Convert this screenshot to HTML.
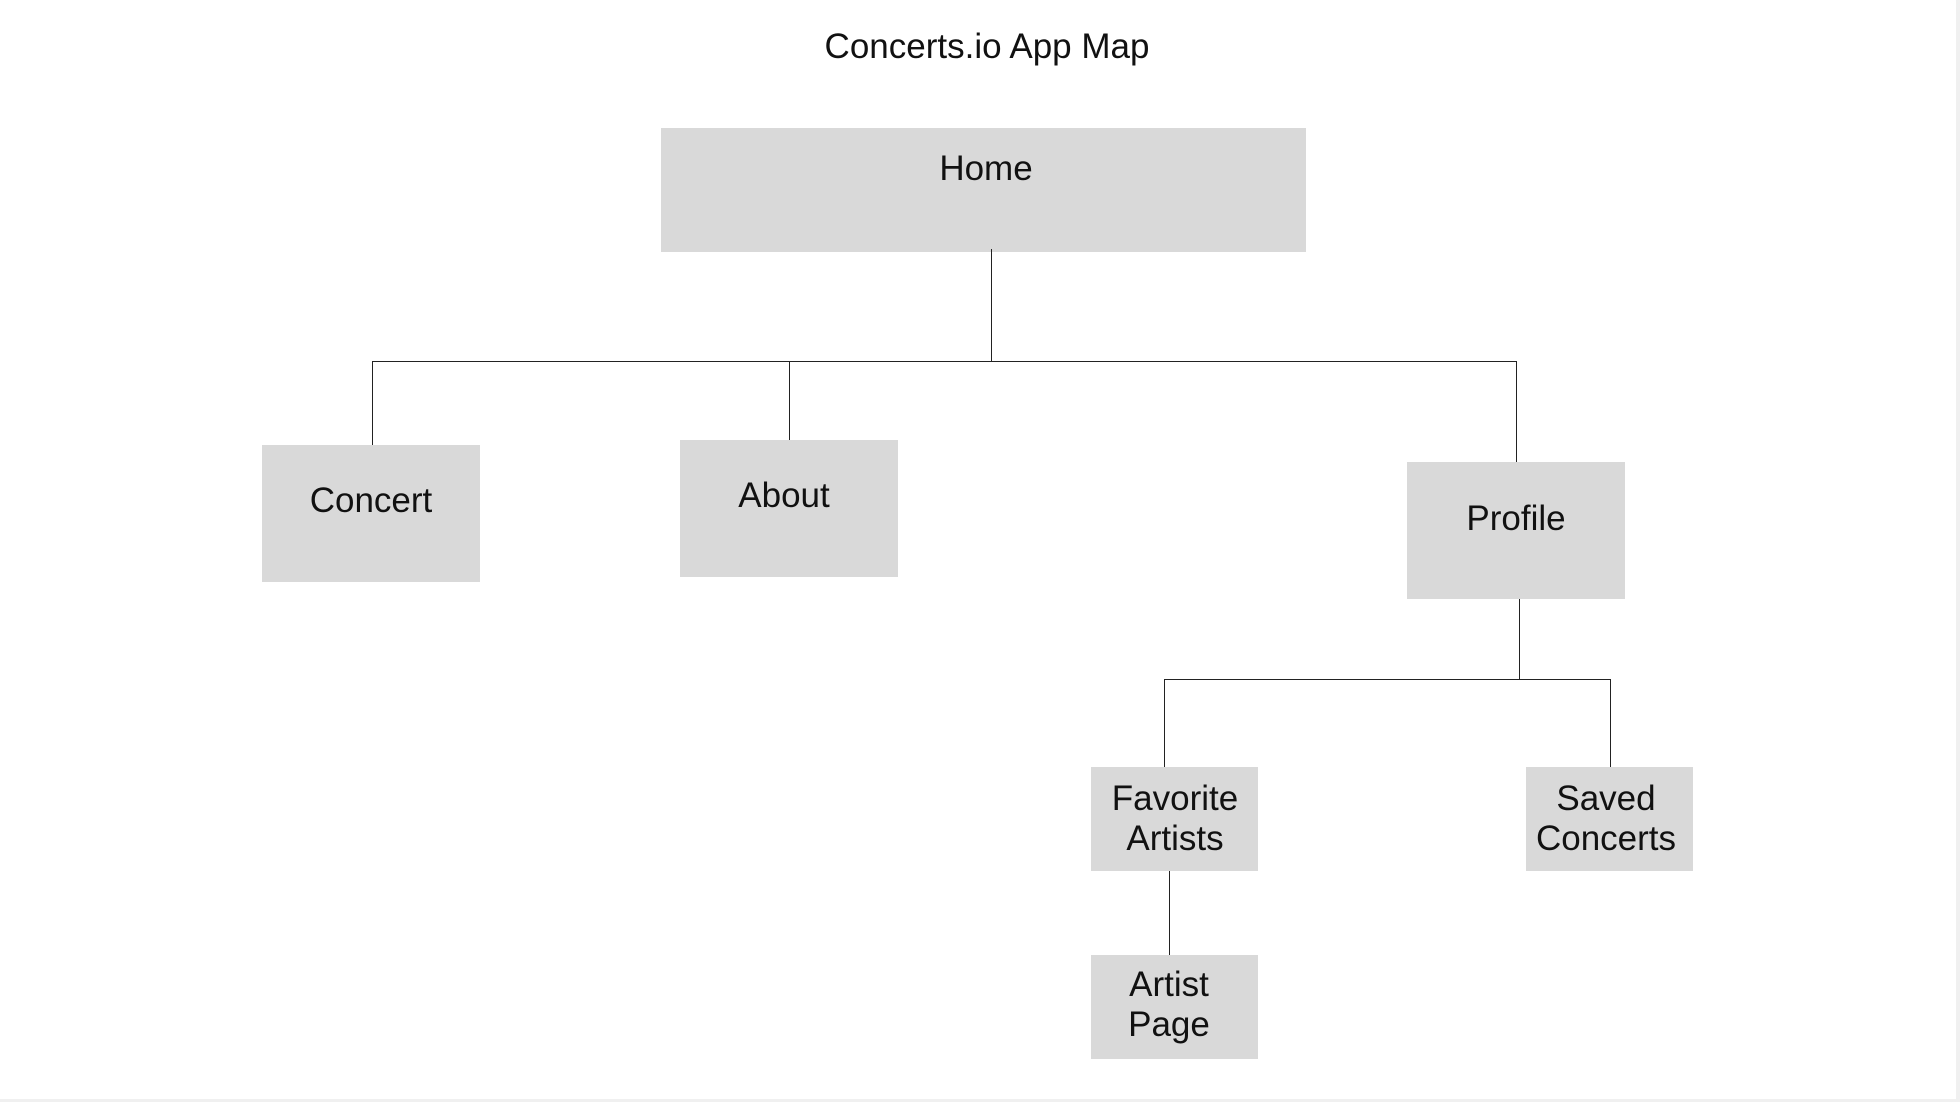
<!DOCTYPE html>
<html><head><meta charset="utf-8"><style>
html,body{margin:0;padding:0;background:#fff;}
body{width:1960px;height:1102px;position:relative;overflow:hidden;font-family:"Liberation Sans",sans-serif;color:#111;}
.b{position:absolute;background:#d9d9d9;}
.t{position:absolute;font-size:35px;line-height:40px;text-align:center;white-space:nowrap;transform:translate(-50%,-50%);}
.h{position:absolute;height:1px;background:#222;}
.v{position:absolute;width:1px;background:#222;}
</style></head><body>
<div class="t" style="left:987px;top:47px;font-size:35px;">Concerts.io App Map</div>

<div class="b" style="left:661px;top:128px;width:645px;height:124px;"></div>
<div class="t" style="left:986px;top:169px;">Home</div>

<div class="v" style="left:991px;top:249px;height:112px;"></div>
<div class="h" style="left:372px;top:361px;width:1145px;"></div>
<div class="v" style="left:372px;top:361px;height:84px;"></div>
<div class="v" style="left:789px;top:361px;height:79px;"></div>
<div class="v" style="left:1516px;top:361px;height:101px;"></div>

<div class="b" style="left:262px;top:445px;width:218px;height:137px;"></div>
<div class="t" style="left:371px;top:501px;">Concert</div>
<div class="b" style="left:680px;top:440px;width:218px;height:137px;"></div>
<div class="t" style="left:784px;top:496px;">About</div>
<div class="b" style="left:1407px;top:462px;width:218px;height:137px;"></div>
<div class="t" style="left:1516px;top:519px;">Profile</div>

<div class="v" style="left:1519px;top:599px;height:80px;"></div>
<div class="h" style="left:1164px;top:679px;width:447px;"></div>
<div class="v" style="left:1164px;top:679px;height:88px;"></div>
<div class="v" style="left:1610px;top:679px;height:88px;"></div>

<div class="b" style="left:1091px;top:767px;width:167px;height:104px;"></div>
<div class="t" style="left:1175px;top:819px;">Favorite<br>Artists</div>
<div class="b" style="left:1526px;top:767px;width:167px;height:104px;"></div>
<div class="t" style="left:1606px;top:819px;">Saved<br>Concerts</div>

<div class="v" style="left:1169px;top:871px;height:84px;"></div>
<div class="b" style="left:1091px;top:955px;width:167px;height:104px;"></div>
<div class="t" style="left:1169px;top:1005px;">Artist<br>Page</div>

<div style="position:absolute;left:0;top:1099px;width:1960px;height:3px;background:#f0f0f0;"></div>
<div style="position:absolute;left:1956px;top:0;width:4px;height:1102px;background:#f0f0f0;"></div>
</body></html>
